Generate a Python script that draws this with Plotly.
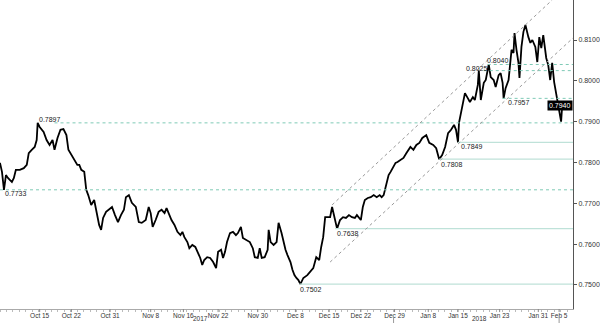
import plotly.graph_objects as go

# bar index (4h-style sessions) and price
bar = [0,2,4,6,8,10,12,14,16,20,24,27,29,32,35,37,38,40,44,47,50,53,55,58,61,64,67,69,72,75,78,80,82,85,87,89,92,95,97,100,102,104,107,110,113,116,119,122,125,127,130,133,137,140,143,147,150,152,154,157,160,163,166,168,170,173,176,179,182,184,186,189,191,194,197,200,202,204,206,209,212,215,218,220,223,225,227,229,232,235,238,240,243,245,249,252,255,257,260,262,264,267,270,271,273,276,279,281,284,286,288,290,293,295,297,299,301,303,306,310,313,316,319,322,324,326,328,330,333,335,338,340,343,346,349,352,355,358,360,362,364,366,368,371,374,377,380,383,385,387,390,392,394,396,399,401,404,407,410,412,414,417,420,423,426,430,433,437,440,443,446,449,452,455,458,460,462,463,465,467,469,472,474,477,479,482,483,485,488,490,493,495,498,500,503,505,507,508,510,513,514,516,518,519,521,523,524,526,528,530,533,535,537,540,542,544,546,548,551,553,555,557,559,562,564,566,567,569]
price = [0.7799,0.7777,0.7733,0.7769,0.7762,0.7757,0.7752,0.7762,0.7782,0.7782,0.7786,0.7794,0.7823,0.7831,0.7838,0.7855,0.7897,0.7887,0.7875,0.7855,0.7843,0.7855,0.7831,0.7860,0.7880,0.7882,0.7867,0.7831,0.7818,0.7806,0.7794,0.7794,0.7782,0.7777,0.7733,0.7720,0.7696,0.7708,0.7684,0.7647,0.7635,0.7664,0.7679,0.7684,0.7691,0.7671,0.7654,0.7671,0.7684,0.7715,0.7720,0.7701,0.7691,0.7654,0.7652,0.7659,0.7691,0.7676,0.7642,0.7659,0.7679,0.7684,0.7676,0.7688,0.7676,0.7659,0.7647,0.7630,0.7622,0.7630,0.7617,0.7605,0.7590,0.7598,0.7593,0.7578,0.7566,0.7549,0.7561,0.7568,0.7566,0.7556,0.7541,0.7581,0.7586,0.7566,0.7581,0.7605,0.7627,0.7630,0.7622,0.7627,0.7642,0.7615,0.7610,0.7605,0.7590,0.7568,0.7566,0.7590,0.7566,0.7568,0.7586,0.7635,0.7605,0.7598,0.7605,0.7652,0.7627,0.7605,0.7586,0.7573,0.7556,0.7537,0.7524,0.7517,0.7512,0.7502,0.7517,0.7524,0.7532,0.7541,0.7568,0.7561,0.7593,0.7617,0.7666,0.7666,0.7666,0.7691,0.7654,0.7638,0.7659,0.7666,0.7664,0.7671,0.7666,0.7664,0.7671,0.7664,0.7659,0.7691,0.7708,0.7713,0.7715,0.7720,0.7715,0.7720,0.7715,0.7720,0.7750,0.7769,0.7777,0.7786,0.7799,0.7801,0.7806,0.7811,0.7823,0.7831,0.7838,0.7831,0.7843,0.7848,0.7860,0.7867,0.7848,0.7843,0.7835,0.7808,0.7818,0.7838,0.7872,0.7880,0.7892,0.7880,0.7849,0.7897,0.7921,0.7953,0.7970,0.7957,0.7948,0.7960,0.7953,0.7990,0.8025,0.7953,0.7995,0.8002,0.8040,0.8009,0.8002,0.7985,0.8014,0.8019,0.7995,0.7957,0.7982,0.8002,0.8034,0.8076,0.8068,0.8117,0.8076,0.8044,0.8007,0.8083,0.8120,0.8137,0.8107,0.8093,0.8100,0.8083,0.8046,0.8107,0.8080,0.8112,0.8056,0.8039,0.8002,0.8044,0.7997,0.7953,0.7921,0.7900,0.7936,0.7940]

tick_pos = [40,72,111,152,185,220,260,298,332,364,398,432,462,504,543,564]
tick_text = ["Oct 15","Oct 22","Oct 31","Nov 8","Nov 16","Nov 22","Nov 30","Dec 8",
             "Dec 15","Dec 22","Dec 29","Jan 8","Jan 15","Jan 23","Jan 31","Feb 5"]
y_ticks = [0.75,0.76,0.77,0.78,0.79,0.80,0.81]

# key levels: (value, start bar)
dashed_levels = [(0.7897, 55), (0.7733, 0), (0.7957, 507), (0.8025, 488), (0.8040, 492)]
solid_levels = [(0.7849, 462), (0.7808, 443), (0.7638, 338), (0.7502, 302)]
# level labels: (text, bar, value)
level_labels = [("0.7897", 37, 0.7906), ("0.7733", 3, 0.7725), ("0.7502", 301, 0.7488),
                ("0.7638", 338, 0.7627), ("0.7808", 443, 0.7796), ("0.7849", 463, 0.7840),
                ("0.7957", 510, 0.7946), ("0.8025", 468, 0.8031), ("0.8040", 489, 0.8049)]
# channel lines: (bar0, value0, bar1, value1)
channel = [(335, 0.7696, 557, 0.8198), (333, 0.7556, 578, 0.8105)]
year_labels = [("2017", 202), ("2018", 484)]
last_price = 0.7940

X_MAX = 578
Y_MIN, Y_MAX = 0.7441, 0.8198
FONT = "Liberation Sans, Arial, sans-serif"

fig = go.Figure()
fig.add_trace(go.Scatter(x=bar, y=price, mode="lines",
                         line=dict(color="black", width=1.8), hoverinfo="skip"))

shapes = []
for v, x0 in dashed_levels:
    shapes.append(dict(type="line", xref="x", yref="y", x0=x0, x1=X_MAX, y0=v, y1=v,
                       line=dict(color="#7fcab6", width=1, dash="3px,3px")))
for v, x0 in solid_levels:
    shapes.append(dict(type="line", xref="x", yref="y", x0=x0, x1=X_MAX, y0=v, y1=v,
                       line=dict(color="#bfe2d9", width=1.2)))
for x0, v0, x1, v1 in channel:
    shapes.append(dict(type="line", xref="x", yref="y", x0=x0, x1=x1, y0=v0, y1=v1,
                       line=dict(color="#9a9a9a", width=1, dash="dot")))
for xs in [397, 564]:
    shapes.append(dict(type="line", xref="x", yref="paper", x0=xs, x1=xs, y0=-0.025, y1=-0.05,
                       line=dict(color="#999999", width=1)))
# major x ticks drawn just below the axis line
for xs in tick_pos:
    shapes.append(dict(type="line", xref="x", yref="paper", x0=xs, x1=xs, y0=0, y1=-0.01,
                       line=dict(color="#888888", width=1)))

annotations = []
for t, x, v in level_labels:
    annotations.append(dict(x=x, y=v, xref="x", yref="y", text=t, showarrow=False,
                            xanchor="left", yanchor="middle",
                            font=dict(size=7, color="#222", family=FONT)))
for t, x in year_labels:
    annotations.append(dict(x=x, y=0, xref="x", yref="paper", yshift=-14, text=t, showarrow=False,
                            xanchor="center", yanchor="bottom", borderpad=0,
                            font=dict(size=6.5, color="#333", family=FONT)))
annotations.append(dict(x=1.0, y=last_price, xref="paper", yref="y", text=f"{last_price:.4f}",
                        showarrow=False, xanchor="right", yanchor="middle", bgcolor="black",
                        borderpad=1, font=dict(size=7, color="white", family=FONT)))

fig.update_layout(
    width=600, height=323, margin=dict(l=0, r=22, t=0, b=14),
    paper_bgcolor="white", plot_bgcolor="white", showlegend=False,
    shapes=shapes, annotations=annotations,
    xaxis=dict(range=[0, X_MAX], tickvals=tick_pos, ticktext=tick_text, showgrid=False,
               tickangle=0, zeroline=False, showline=True, linecolor="#aaaaaa", linewidth=1,
               ticks="", ticklabelstandoff=0,
               tickfont=dict(size=6.5, color="#333", family=FONT),
               minor=dict(ticks="outside", ticklen=2, dtick=6.5, tickcolor="#bbbbbb")),
    yaxis=dict(side="right", range=[Y_MIN, Y_MAX], tickvals=y_ticks, tickformat=".4f",
               showgrid=False, zeroline=False, showline=True, linecolor="#555555", linewidth=1,
               ticks="outside", ticklen=3, tickcolor="#555", tickfont=dict(size=7, color="#333", family=FONT)),
)
fig.write_html("out.html")
